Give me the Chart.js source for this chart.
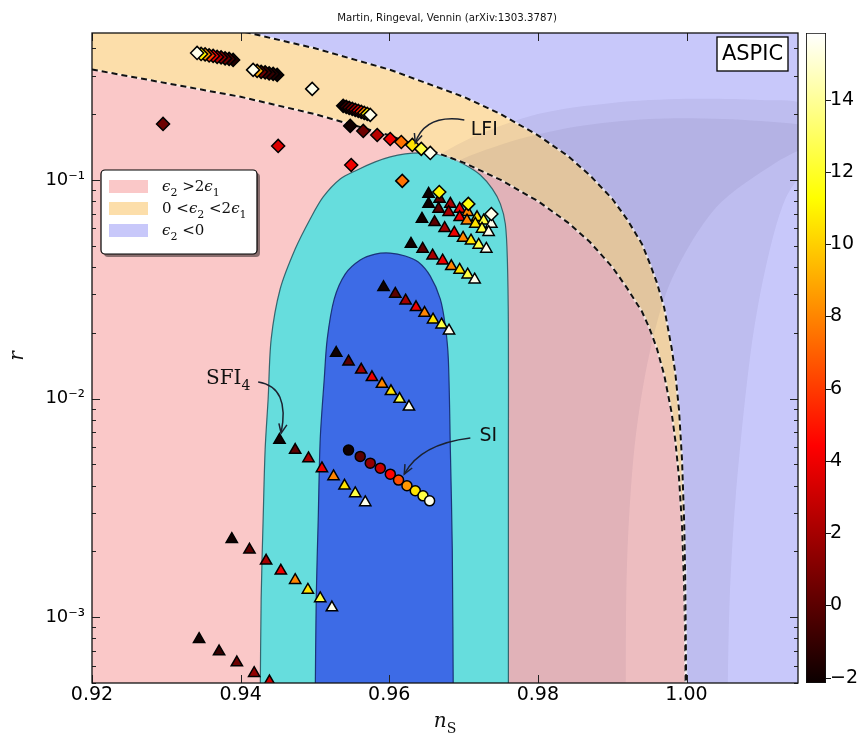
<!DOCTYPE html>
<html>
<head>
<meta charset="utf-8">
<script src="https://cdn.jsdelivr.net/npm/chart.js@4.4.1/dist/chart.umd.min.js"></script>
<style>
  html, body { margin: 0; padding: 0; background: #fff; }
  #wrap { position: relative; width: 868px; height: 743px; }
  #main { position: absolute; left: 0; top: 0; }
  #cbar { position: absolute; left: 800px; top: 0; }
</style>
</head>
<body>
<div id="wrap">
  <canvas id="main" width="868" height="743"></canvas>
  <canvas id="cbar" width="68" height="743"></canvas>
</div>
<script>
// ---------- axes ----------
const nsRange = [0.92, 1.015];
const rRange = [5e-4, 0.47];
const xTickValues = [0.92, 0.94, 0.96, 0.98, 1.00];
const yTickValues = [1e-3, 1e-2, 1e-1];
const yTickLabels = ['10\u207B\u00B3', '10\u207B\u00B2', '10\u207B\u00B9'];
const colorRange = [-2.15, 15.85];
const colorTicks = [-2, 0, 2, 4, 6, 8, 10, 12, 14];

// ---------- slow-roll boundaries ----------
// epsilon2 = 0
const epsZeroNs = [0.930, 0.940, 0.950, 0.960, 0.970, 0.975, 0.980, 0.984, 0.987, 0.990, 0.992, 0.994, 0.995, 0.996, 0.997, 0.998, 0.9985, 0.9990, 0.9994, 0.9997, 0.99980, 0.99988, 0.99993, 0.99996];
const epsZeroR  = [0.56, 0.48, 0.40, 0.32, 0.24, 0.20, 0.16, 0.129, 0.105, 0.082, 0.066, 0.051, 0.042, 0.034, 0.026, 0.017, 0.013, 0.0088, 0.0052, 0.0026, 0.0017, 0.00100, 0.00058, 0.00033];
// epsilon2 = 2 epsilon1
const epsTwoNs = [0.900, 0.920, 0.940, 0.950, 0.960, 0.970, 0.975, 0.980, 0.984, 0.987, 0.990, 0.992, 0.994, 0.995, 0.996, 0.997, 0.998, 0.9985, 0.9990, 0.9994, 0.9997, 0.99980, 0.99988, 0.99993];
const epsTwoR  = [0.40, 0.32, 0.24, 0.20, 0.16, 0.12, 0.10, 0.080, 0.064, 0.052, 0.040, 0.032, 0.025, 0.021, 0.017, 0.0128, 0.0086, 0.0064, 0.0043, 0.0026, 0.0013, 0.00085, 0.00050, 0.00029];

// ---------- Planck contours ----------
const planck2sNs = [0.94263, 0.94276, 0.94303, 0.94330, 0.94370, 0.94411, 0.94532, 0.94734, 0.94936, 0.95111, 0.95340, 0.95569, 0.95811, 0.96013, 0.96215, 0.96417, 0.96620, 0.96822, 0.97024, 0.97226, 0.97387, 0.97495, 0.97562, 0.97589, 0.97603, 0.97603, 0.97603];
const planck2sR  = [0.0004, 0.00121, 0.00281, 0.00587, 0.00995, 0.0187, 0.0317, 0.0483, 0.0663, 0.0836, 0.101, 0.1111, 0.1209, 0.1274, 0.1315, 0.1329, 0.1315, 0.1261, 0.1171, 0.1054, 0.0910, 0.0777, 0.0629, 0.0435, 0.0208, 0.00587, 0.0004];
const planck1sNs = [0.95003, 0.95017, 0.95044, 0.95071, 0.95125, 0.95165, 0.95259, 0.95407, 0.95609, 0.95811, 0.96013, 0.96215, 0.96391, 0.96552, 0.96687, 0.96754, 0.96795, 0.96822, 0.96848, 0.96862];
const planck1sR  = [0.0004, 0.00121, 0.00281, 0.00653, 0.01228, 0.0187, 0.0285, 0.0371, 0.0430, 0.0458, 0.0463, 0.0449, 0.0421, 0.0363, 0.0285, 0.0215, 0.01517, 0.00587, 0.00205, 0.0004];

// faint likelihood shading behind the contours
const outerShadeNs = [0.955, 0.955, 0.962, 0.970, 0.980, 0.990, 1.000, 1.010, 1.016, 1.018, 1.0133, 1.0106, 1.0086, 1.0066, 1.0058, 1.0055];
const outerShadeR  = [0.0004, 0.05, 0.10, 0.15, 0.20, 0.225, 0.235, 0.232, 0.22, 0.15, 0.082, 0.039, 0.016, 0.0035, 0.0012, 0.0004];
const innerShadeNs = [0.960, 0.960, 0.967, 0.975, 0.985, 0.995, 1.005, 1.015, 1.020, 1.012, 1.004, 0.998, 0.995, 0.993, 0.992, 0.9918];
const innerShadeR  = [0.0004, 0.06, 0.11, 0.145, 0.175, 0.19, 0.19, 0.18, 0.17, 0.12, 0.075, 0.035, 0.016, 0.006, 0.0018, 0.0004];

// ---------- models (value = colour-coded parameter) ----------
const lfiTrailANs = [0.93899, 0.93845, 0.93791, 0.93737, 0.93684, 0.93630, 0.93576, 0.93522, 0.93468, 0.93414];
const lfiTrailAR  = [0.3540, 0.3578, 0.3597, 0.3635, 0.3654, 0.3693, 0.3712, 0.3752, 0.3771, 0.3811];
const lfiTrailAV  = [-1.5, -0.5, 0.5, 1.5, 2.5, 4, 6, 8.5, 11, 15.5];
const lfiTrailBNs = [0.94492, 0.94438, 0.94384, 0.94330, 0.94276, 0.94222, 0.94168];
const lfiTrailBR  = [0.3023, 0.3055, 0.3071, 0.3105, 0.3121, 0.3154, 0.3187];
const lfiTrailBV  = [-2, -1.5, -1, -0.5, 0.5, 9, 15.5];
const lfiSingleNs = [0.94963];
const lfiSingleR  = [0.2609];
const lfiSingleV  = [15.5];
const lfiTrailCNs = [0.95380, 0.95421, 0.95461, 0.95502, 0.95542, 0.95583, 0.95623, 0.95663, 0.95704, 0.95744];
const lfiTrailCR  = [0.2182, 0.2159, 0.2136, 0.2114, 0.2092, 0.2070, 0.2048, 0.2026, 0.2005, 0.1984];
const lfiTrailCV  = [-2, -1, 0, 1, 2, 3.5, 5.5, 8, 11, 15.5];
const lfiLineNs = [0.95475, 0.95650, 0.95838, 0.96013, 0.96162, 0.96310, 0.96431, 0.96552];
const lfiLineR  = [0.1767, 0.1676, 0.1606, 0.1540, 0.1492, 0.1446, 0.1387, 0.1329];
const lfiLineV  = [-2, 0.5, 2.5, 4, 7.5, 10.5, 12.5, 15.5];
const lfiLooseNs = [0.92956, 0.94505, 0.95488, 0.96175, 0.96673, 0.97064, 0.97374];
const lfiLooseR  = [0.1804, 0.1431, 0.1171, 0.0990, 0.0881, 0.0777, 0.0699];
const lfiLooseV  = [0.5, 3.5, 4, 7.5, 11, 11.5, 15.5];

const triRow1Ns = [0.96529, 0.96677, 0.96822, 0.96947, 0.97055, 0.97181, 0.97270, 0.97374];
const triRow1R  = [0.08629, 0.08184, 0.07768, 0.07368, 0.07116, 0.06750, 0.06512, 0.06289];
const triRow2Ns = [0.96529, 0.96664, 0.96799, 0.96947, 0.97046, 0.97158, 0.97248, 0.97337];
const triRow2R  = [0.07768, 0.07368, 0.07116, 0.06750, 0.06512, 0.06289, 0.05968, 0.05764];
const triRow3Ns = [0.96440, 0.96610, 0.96745, 0.96875, 0.96993, 0.97100, 0.97203, 0.97306];
const triRow3R  = [0.06630, 0.06403, 0.06012, 0.05721, 0.05427, 0.05275, 0.05041, 0.04833];
const triRow4Ns = [0.96292, 0.96449, 0.96583, 0.96718, 0.96835, 0.96947, 0.97055, 0.97149];
const triRow4R  = [0.05094, 0.04833, 0.04503, 0.04272, 0.04028, 0.03874, 0.03686, 0.03497];
const triRow5Ns = [0.95923, 0.96081, 0.96220, 0.96360, 0.96475, 0.96589, 0.96704, 0.96804];
const triRow5R  = [0.03228, 0.03008, 0.02803, 0.02615, 0.02462, 0.02294, 0.02176, 0.02043];
const triRow6Ns = [0.95286, 0.95452, 0.95623, 0.95767, 0.95902, 0.96023, 0.96139, 0.96265];
const triRow6R  = [0.01615, 0.01474, 0.01354, 0.01251, 0.01165, 0.01079, 0.009947, 0.009173];
const sfi4Ns = [0.94523, 0.94734, 0.94913, 0.95094, 0.95250, 0.95398, 0.95542, 0.95677];
const sfi4R  = [0.006457, 0.005811, 0.005324, 0.004792, 0.004405, 0.003990, 0.003683, 0.003349];
const triRow8Ns = [0.93881, 0.94119, 0.94343, 0.94541, 0.94734, 0.94905, 0.95071, 0.95228];
const triRow8R  = [0.002275, 0.002032, 0.001810, 0.001629, 0.001477, 0.001333, 0.001218, 0.001107];
const triRow9Ns = [0.93441, 0.93710, 0.93949, 0.94182, 0.94388];
const triRow9R  = [0.0007930, 0.0006966, 0.0006204, 0.0005543, 0.0005077];
const triRowV   = [-2, 0, 2, 4, 8, 10.5, 12.5, 15.5];
const triRow9V  = [-2, -1, 0.5, 1.5, 3];

const siNs = [0.95452, 0.95609, 0.95744, 0.95879, 0.96014, 0.96125, 0.96238, 0.96350, 0.96454, 0.96543];
const siR  = [0.005811, 0.005437, 0.005066, 0.004806, 0.004511, 0.004236, 0.003990, 0.003785, 0.003590, 0.003406];
const siV  = [-2, 0, 1.5, 3, 4.5, 6.5, 8.5, 10.5, 12.5, 15.5];

// ---------- annotation anchors (ns, r) ----------
const lfiNote  = { text: [0.97279, 0.1694], from: [0.97010, 0.1882], via: [0.96485, 0.2006], to: [0.96350, 0.1477] };
const sfi4Note = { text: [0.93832, 0.01254], from: [0.94236, 0.01190], via: [0.94667, 0.01129], to: [0.94545, 0.006952] };
const siNote   = { text: [0.97333, 0.006737], from: [0.97091, 0.006596], via: [0.96417, 0.006190], to: [0.96202, 0.004512] };

// ---------- styling ----------
const COLORS = {
  pink: 'rgb(250,200,200)',
  orange: 'rgb(252,222,170)',
  lavender: 'rgb(200,200,250)',
  shade: 'rgba(40,20,70,0.06)',
  cyan: 'rgb(102,221,221)',
  cyanEdge: 'rgba(40,90,100,0.9)',
  deep: 'rgb(61,107,230)',
  deepEdge: 'rgba(20,40,110,0.9)',
  ink: '#1b2230'
};
const SANS = "'DejaVu Sans', sans-serif";
const SERIF = "'DejaVu Serif', serif";
const FAR = { nsLeft: 0.88, nsRight: 1.06, rTop: 5, rBottom: 1e-5 };

// matplotlib "hot" colour map
const hotStops = [[0, [11, 0, 0]], [0.365079, [255, 0, 0]], [0.746032, [255, 255, 0]], [1, [255, 255, 255]]];
function hot(v) {
  const t = Math.min(1, Math.max(0, (v - colorRange[0]) / (colorRange[1] - colorRange[0])));
  for (let i = 1; i < hotStops.length; i++) {
    const [t0, c0] = hotStops[i - 1], [t1, c1] = hotStops[i];
    if (t <= t1) {
      const f = (t - t0) / (t1 - t0);
      const c = c0.map((a, k) => Math.round(a + (c1[k] - a) * f));
      return `rgb(${c[0]},${c[1]},${c[2]})`;
    }
  }
  return 'rgb(255,255,255)';
}

const zip = (ns, r) => ns.map((x, i) => ({ x, y: r[i] }));

function region(points, color, order, edge, tension) {
  return {
    data: points, showLine: true, fill: 'shape', backgroundColor: color,
    borderColor: edge || 'rgba(0,0,0,0)', borderWidth: edge ? 1.2 : 1,
    pointRadius: 0, pointHoverRadius: 0, pointHitRadius: 0, tension: tension || 0, order
  };
}
function boundary(ns, r, order) {
  return [
    { data: zip(ns, r), showLine: true, fill: false, borderColor: 'rgba(255,255,255,0.55)', borderWidth: 2.2, pointRadius: 0, tension: 0, order: order + 1 },
    { data: zip(ns, r), showLine: true, fill: false, borderColor: '#111', borderWidth: 2, borderDash: [6, 4], pointRadius: 0, tension: 0, order }
  ];
}
function markers(ns, r, vals, style, radius, order) {
  return {
    data: zip(ns, r), showLine: false, pointStyle: style, pointRadius: radius, pointHoverRadius: radius,
    pointBackgroundColor: vals.map(hot), pointBorderColor: '#000', pointBorderWidth: 1.5, order
  };
}

const orangePoly = [...zip(epsTwoNs, epsTwoR),
  { x: 1.0, y: FAR.rBottom }, { x: FAR.nsRight, y: FAR.rBottom }, { x: FAR.nsRight, y: FAR.rTop },
  { x: FAR.nsLeft, y: FAR.rTop }, { x: FAR.nsLeft, y: epsTwoR[0] }];
const lavenderPoly = [...zip(epsZeroNs, epsZeroR),
  { x: 1.0, y: FAR.rBottom }, { x: FAR.nsRight, y: FAR.rBottom }, { x: FAR.nsRight, y: FAR.rTop },
  { x: epsZeroNs[0], y: FAR.rTop }];

const datasets = [
  region(orangePoly, COLORS.orange, 100),
  region(lavenderPoly, COLORS.lavender, 95),
  region(zip(outerShadeNs, outerShadeR), COLORS.shade, 90, null, 0.3),
  region(zip(innerShadeNs, innerShadeR), COLORS.shade, 89, null, 0.3),
  region(zip(planck2sNs, planck2sR), COLORS.cyan, 80, COLORS.cyanEdge, 0.3),
  region(zip(planck1sNs, planck1sR), COLORS.deep, 75, COLORS.deepEdge, 0.3),
  ...boundary(epsTwoNs, epsTwoR, 60),
  ...boundary(epsZeroNs, epsZeroR, 58),
  markers(lfiTrailANs, lfiTrailAR, lfiTrailAV, 'rectRot', 6.5, 30),
  markers(lfiTrailBNs, lfiTrailBR, lfiTrailBV, 'rectRot', 6.5, 29),
  markers(lfiSingleNs, lfiSingleR, lfiSingleV, 'rectRot', 6.5, 28),
  markers(lfiTrailCNs, lfiTrailCR, lfiTrailCV, 'rectRot', 6.5, 27),
  markers(lfiLineNs, lfiLineR, lfiLineV, 'rectRot', 6.5, 26),
  markers(triRow1Ns, triRow1R, triRowV, 'triangle', 6.5, 25),
  markers(triRow2Ns, triRow2R, triRowV, 'triangle', 6.5, 24),
  markers(triRow3Ns, triRow3R, triRowV, 'triangle', 6.5, 23),
  markers(triRow4Ns, triRow4R, triRowV, 'triangle', 6.5, 22),
  markers(triRow5Ns, triRow5R, triRowV, 'triangle', 6.5, 21),
  markers(triRow6Ns, triRow6R, triRowV, 'triangle', 6.5, 20),
  markers(sfi4Ns, sfi4R, triRowV, 'triangle', 6.5, 19),
  markers(triRow8Ns, triRow8R, triRowV, 'triangle', 6.5, 18),
  markers(triRow9Ns, triRow9R, triRow9V, 'triangle', 6.5, 17),
  markers(lfiLooseNs, lfiLooseR, lfiLooseV, 'rectRot', 6.5, 12),
  markers(siNs, siR, siV, 'circle', 5, 10)
];

// ---------- drawing helpers ----------
function drawRich(ctx, x, y, parts, size, family, align) {
  const fontFor = st => st === 'i' ? `italic ${size}px ${family}`
    : st === 's' ? `${Math.round(size * 0.7)}px ${family}` : `${size}px ${family}`;
  let w = 0;
  parts.forEach(([t, st]) => { ctx.font = fontFor(st); w += ctx.measureText(t).width; });
  let cx = align === 'center' ? x - w / 2 : x;
  ctx.textAlign = 'left';
  ctx.textBaseline = 'alphabetic';
  parts.forEach(([t, st]) => {
    ctx.font = fontFor(st);
    ctx.fillText(t, cx, st === 's' ? y + size * 0.3 : y);
    cx += ctx.measureText(t).width;
  });
}
function curvedArrow(ctx, p0, p1, p2) {
  ctx.beginPath();
  ctx.moveTo(p0[0], p0[1]);
  ctx.quadraticCurveTo(p1[0], p1[1], p2[0], p2[1]);
  ctx.stroke();
  const ang = Math.atan2(p2[1] - p1[1], p2[0] - p1[0]);
  const L = 10, s = 0.42;
  ctx.beginPath();
  ctx.moveTo(p2[0] - L * Math.cos(ang - s), p2[1] - L * Math.sin(ang - s));
  ctx.lineTo(p2[0], p2[1]);
  ctx.lineTo(p2[0] - L * Math.cos(ang + s), p2[1] - L * Math.sin(ang + s));
  ctx.stroke();
}

const decor = {
  id: 'decor',
  beforeDatasetsDraw(chart) {
    const { ctx, chartArea: a } = chart;
    ctx.save();
    ctx.fillStyle = COLORS.pink;
    ctx.fillRect(a.left, a.top, a.right - a.left, a.bottom - a.top);
    ctx.restore();
  },
  afterDatasetsDraw(chart) {
    const { ctx, chartArea: a, scales: { x, y } } = chart;
    const px = p => [x.getPixelForValue(p[0]), y.getPixelForValue(p[1])];
    ctx.save();
    ctx.beginPath();
    ctx.rect(a.left, a.top, a.right - a.left, a.bottom - a.top);
    ctx.clip();

    // annotations
    ctx.strokeStyle = COLORS.ink;
    ctx.lineWidth = 1.5;
    ctx.fillStyle = '#111';
    [lfiNote, sfi4Note, siNote].forEach(n => curvedArrow(ctx, px(n.from), px(n.via), px(n.to)));
    ctx.textAlign = 'center';
    ctx.textBaseline = 'middle';
    ctx.font = `19px ${SANS}`;
    let t = px(lfiNote.text); ctx.fillText('LFI', t[0], t[1]);
    t = px(siNote.text); ctx.fillText('SI', t[0], t[1]);
    t = px(sfi4Note.text);
    drawRich(ctx, t[0], t[1] + 7, [['SFI', ''], ['4', 's']], 20, SERIF, 'center');

    // legend
    const lx = a.left + 9, ly = a.top + 137, lw = 156, lh = 84;
    ctx.fillStyle = 'rgba(0,0,0,0.45)';
    ctx.beginPath(); ctx.roundRect(lx + 3, ly + 3, lw, lh, 4); ctx.fill();
    ctx.fillStyle = '#fff';
    ctx.strokeStyle = '#000';
    ctx.lineWidth = 1.2;
    ctx.beginPath(); ctx.roundRect(lx, ly, lw, lh, 4); ctx.fill(); ctx.stroke();
    const items = [
      [COLORS.pink, [['\u03F5', 'i'], ['2', 's'], [' >2', ''], ['\u03F5', 'i'], ['1', 's']]],
      [COLORS.orange, [['0 <', ''], ['\u03F5', 'i'], ['2', 's'], [' <2', ''], ['\u03F5', 'i'], ['1', 's']]],
      [COLORS.lavender, [['\u03F5', 'i'], ['2', 's'], [' <0', '']]]
    ];
    items.forEach(([col, parts], i) => {
      const yy = ly + 10 + i * 22;
      ctx.fillStyle = col;
      ctx.fillRect(lx + 8, yy, 39, 13);
      ctx.fillStyle = '#111';
      drawRich(ctx, lx + 61, yy + 11, parts, 15, SERIF, 'left');
    });

    // model family tag
    const bw = 71, bh = 34, bx = a.right - 10 - bw, by = a.top + 4;
    ctx.fillStyle = '#fff';
    ctx.fillRect(bx, by, bw, bh);
    ctx.strokeStyle = '#000';
    ctx.lineWidth = 1.3;
    ctx.strokeRect(bx, by, bw, bh);
    ctx.fillStyle = '#000';
    ctx.font = `21px ${SANS}`;
    ctx.textAlign = 'center';
    ctx.textBaseline = 'middle';
    ctx.fillText('ASPIC', bx + bw / 2, by + bh / 2 + 1);
    ctx.restore();
  },
  afterDraw(chart) {
    const { ctx, chartArea: a, scales: { x, y } } = chart;
    ctx.save();
    ctx.strokeStyle = '#222';
    ctx.lineWidth = 1;
    // inward ticks
    ctx.beginPath();
    xTickValues.forEach(v => {
      const p = Math.round(x.getPixelForValue(v)) + 0.5;
      ctx.moveTo(p, a.bottom); ctx.lineTo(p, a.bottom - 8);
      ctx.moveTo(p, a.top); ctx.lineTo(p, a.top + 8);
    });
    for (let e = -4; e <= 0; e++) {
      for (let m = 1; m <= 9; m++) {
        const v = m * Math.pow(10, e);
        if (v < rRange[0] || v > rRange[1]) continue;
        const p = Math.round(y.getPixelForValue(v)) + 0.5;
        const len = m === 1 ? 8 : 4;
        ctx.moveTo(a.left, p); ctx.lineTo(a.left + len, p);
        ctx.moveTo(a.right, p); ctx.lineTo(a.right - len, p);
      }
    }
    ctx.stroke();
    // frame
    ctx.lineWidth = 1.3;
    ctx.strokeStyle = '#111';
    ctx.strokeRect(a.left, a.top, a.right - a.left, a.bottom - a.top);

    // title
    ctx.fillStyle = '#111';
    ctx.font = `10.2px ${SANS}`;
    ctx.textAlign = 'center';
    ctx.textBaseline = 'alphabetic';
    ctx.fillText('Martin, Ringeval, Vennin (arXiv:1303.3787)', (a.left + a.right) / 2 + 2, 21);

    // axis titles
    drawRich(ctx, (a.left + a.right) / 2, 727, [['n', 'i'], ['S', 's']], 20, SERIF, 'center');
    ctx.translate(18, 356);
    ctx.rotate(-Math.PI / 2);
    ctx.font = `italic 20px ${SERIF}`;
    ctx.textAlign = 'center';
    ctx.textBaseline = 'middle';
    ctx.fillText('r', 0, 0);
    ctx.restore();
  }
};

new Chart(document.getElementById('main'), {
  type: 'scatter',
  data: { datasets },
  options: {
    responsive: false,
    animation: false,
    events: [],
    layout: { padding: { left: 0, right: 70, top: 33, bottom: 0 } },
    plugins: { legend: { display: false }, tooltip: { enabled: false } },
    scales: {
      x: {
        type: 'linear', position: 'bottom', min: nsRange[0], max: nsRange[1],
        afterBuildTicks: s => { s.ticks = xTickValues.map(v => ({ value: v })); },
        afterFit: s => { s.height = 60; },
        grid: { display: false, drawTicks: false }, border: { display: false },
        ticks: { autoSkip: false, maxRotation: 0, minRotation: 0, padding: 1, color: '#000',
          font: { size: 19, family: SANS }, callback: v => Number(v).toFixed(2) }
      },
      y: {
        type: 'logarithmic', position: 'left', min: rRange[0], max: rRange[1],
        afterBuildTicks: s => { s.ticks = yTickValues.map(v => ({ value: v })); },
        afterFit: s => { s.width = 92; },
        grid: { display: false, drawTicks: false }, border: { display: false },
        ticks: { autoSkip: false, padding: 7, color: '#000', font: { size: 18, family: SANS },
          callback: v => {
            const i = yTickValues.findIndex(t => Math.abs(Math.log10(t) - Math.log10(v)) < 1e-6);
            return i >= 0 ? yTickLabels[i] : '';
          } }
      }
    }
  },
  plugins: [decor]
});

// ---------- colour bar ----------
const cbarTicks = {
  id: 'cbarTicks',
  afterDraw(chart) {
    const { ctx, chartArea: a, scales: { y } } = chart;
    ctx.save();
    ctx.strokeStyle = '#111';
    ctx.lineWidth = 1;
    ctx.beginPath();
    colorTicks.forEach(v => {
      const p = Math.round(y.getPixelForValue(v)) + 0.5;
      ctx.moveTo(a.right, p); ctx.lineTo(a.right + 5, p);
    });
    ctx.stroke();
    ctx.restore();
  }
};

new Chart(document.getElementById('cbar'), {
  type: 'bar',
  data: {
    labels: ['value'],
    datasets: [{
      data: [colorRange],
      backgroundColor: c => {
        const a = c.chart.chartArea;
        if (!a) return '#000';
        const g = c.chart.ctx.createLinearGradient(0, a.bottom, 0, a.top);
        hotStops.forEach(([t, col]) => g.addColorStop(t, `rgb(${col[0]},${col[1]},${col[2]})`));
        return g;
      },
      borderColor: '#111', borderWidth: 1.2, borderSkipped: false,
      barPercentage: 1, categoryPercentage: 1
    }]
  },
  options: {
    responsive: false,
    animation: false,
    events: [],
    layout: { padding: { left: 6, right: 0, top: 33, bottom: 60 } },
    plugins: { legend: { display: false }, tooltip: { enabled: false } },
    scales: {
      x: { display: false },
      y: {
        position: 'right', min: colorRange[0], max: colorRange[1],
        afterBuildTicks: s => { s.ticks = colorTicks.map(v => ({ value: v })); },
        afterFit: s => { s.width = 42; },
        grid: { display: false, drawTicks: false }, border: { display: false },
        ticks: { padding: 4, color: '#000', font: { size: 19, family: SANS },
          callback: v => String(v).replace('-', '\u2212') }
      }
    }
  },
  plugins: [cbarTicks]
});
</script>
</body>
</html>
